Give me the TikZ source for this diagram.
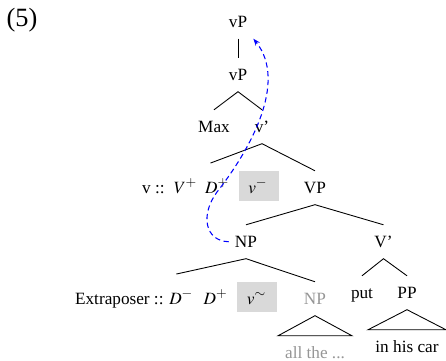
\documentclass[tikz,border=0pt]{standalone}
\usepackage{mathptmx}
\usepackage[no-math]{fontspec}
\setmainfont{Liberation Serif}
\usetikzlibrary{arrows.meta,calc}
\DeclareMathSizes{9.8}{9.8}{7.8}{5.5}
\definecolor{boxgray}{RGB}{217,217,217}
\definecolor{txtgray}{RGB}{150,150,150}
\newcommand{\grayfeat}[1]{{\setlength{\fboxsep}{0pt}\colorbox{boxgray}{\rule[-4.3pt]{0pt}{16.7pt}\hspace{5.5pt}#1\hspace{6.5pt}}}}

\begin{document}
\begin{tikzpicture}[x=0.02cm, y=-0.02cm, >={Stealth[length=4pt,width=3pt]}, line width=0.5pt,
    font=\fontsize{9.8}{12}\selectfont,
    cat/.style={anchor=base, text height=8pt, text depth=2pt, inner ysep=4.4pt},
    feat/.style={anchor=base, inner ysep=4.4pt},
    move/.style={->, blue, line width=0.6pt, dash pattern=on 3pt off 2pt}]
    \useasboundingbox (0,0) rectangle (446,360);
    % 例句编号
    \node[font=\fontsize{15}{18}\selectfont] (num) at (22,20) {(5)};

    % 上层 vP
    \node[cat] (vP1) at (238,27) {vP};
    \node[cat] (vP2) at (238,80) {vP};
    \node[cat] (max) at (214,132) {Max};
    \node[cat] (vbar) at (262,132) {v'};
    \draw (vP1) -- (vP2);
    \draw (max.north) -- (vP2.south) -- (vbar.north);

    % v' 之下：v 与 VP
    \node[feat] (vhead) at (210.5,193) {v ::\hspace{2pt} $V^+$\hspace{2pt} $D^+$\hspace{3pt} \grayfeat{$v^-$}};
    \node[cat] (VP) at (315,193) {VP};
    \draw (vhead.north) -- (vbar.south) -- (VP.north);

    % VP 之下：NP 与 V'
    \node[cat] (NP) at (246,247) {NP};
    \node[cat] (Vbar) at (383.5,247) {V'};
    \draw (NP.north) -- (VP.south) -- (Vbar.north);

    % NP 之下：Extraposer 与 NP
    \node[feat] (ext) at (176.3,304) {Extraposer :: $D^-$\hspace{3.5pt} $D^+$\hspace{3pt} \grayfeat{$v^{\sim}$}};
    \node[cat, txtgray] (NPx) at (315,304) {NP};
    \draw (ext.north) -- (NP.south) -- (NPx.north);

    % V' 之下：put 与 PP
    \node[cat] (put) at (362,298) {put};
    \node[cat] (PP) at (407,298) {PP};
    \draw (put.north) -- (Vbar.south) -- (PP.north);

    % 三角形
    \node[cat, txtgray] (all) at (315,358) {all the ...};
    \node[cat] (car) at (407,352) {in his car};
    \draw (NPx.south) -- ($(all.north)+(-37,0)$) -- ($(all.north)+(37,0)$) -- cycle;
    \draw (PP.south) -- ($(car.north)+(-39,0)$) -- ($(car.north)+(39,0)$) -- cycle;

    % 移位箭头
    \draw[move] (NP.west) .. controls (205,241) and (200,215) .. (217,192)
        .. controls (250,150) and (288,82) .. (vP1.south east);
\end{tikzpicture}
\end{document}
